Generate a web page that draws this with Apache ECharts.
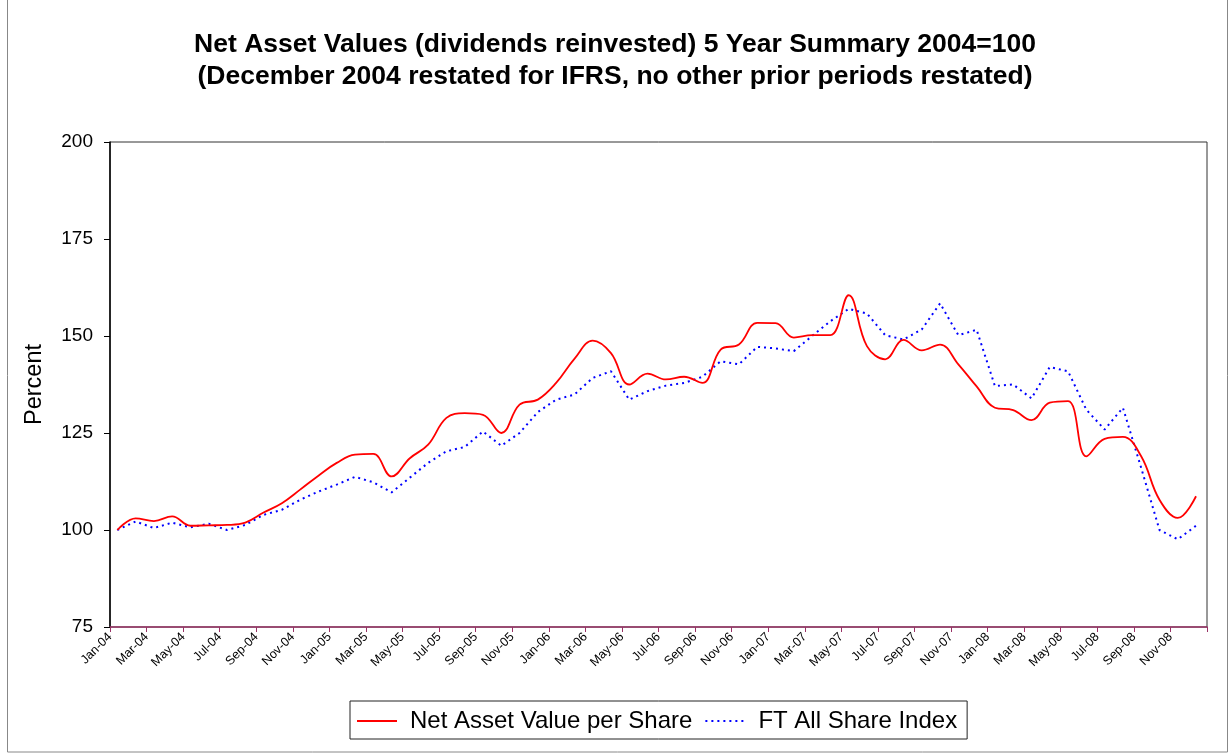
<!DOCTYPE html>
<html>
<head>
<meta charset="utf-8">
<script src="https://cdn.jsdelivr.net/npm/echarts@6/dist/echarts.min.js"></script>
<style>html,body{margin:0;padding:0;background:#fff;}#c{width:1230px;height:756px;}</style>
</head>
<body>
<div id="c"></div>
<script>
// Monthly observations Jan-04 .. Dec-08
var months = ['Jan-04','Feb-04','Mar-04','Apr-04','May-04','Jun-04','Jul-04','Aug-04','Sep-04','Oct-04','Nov-04','Dec-04',
 'Jan-05','Feb-05','Mar-05','Apr-05','May-05','Jun-05','Jul-05','Aug-05','Sep-05','Oct-05','Nov-05','Dec-05',
 'Jan-06','Feb-06','Mar-06','Apr-06','May-06','Jun-06','Jul-06','Aug-06','Sep-06','Oct-06','Nov-06','Dec-06',
 'Jan-07','Feb-07','Mar-07','Apr-07','May-07','Jun-07','Jul-07','Aug-07','Sep-07','Oct-07','Nov-07','Dec-07',
 'Jan-08','Feb-08','Mar-08','Apr-08','May-08','Jun-08','Jul-08','Aug-08','Sep-08','Oct-08','Nov-08','Dec-08'];

var navPerShare = [100, 103.0, 102.3, 103.5, 101.1, 101.2, 101.3, 101.9, 104.5, 106.9, 110.4, 114.0,
 117.3, 119.4, 119.6, 113.8, 118.5, 122.0, 128.9, 130.1, 129.7, 125.0, 132.3, 133.6,
 137.9, 144.1, 148.8, 145.6, 137.5, 140.3, 138.8, 139.5, 137.9, 146.5, 147.8, 153.4,
 153.3, 149.6, 150.2, 150.2, 160.5, 147.4, 144.0, 149.0, 146.3, 147.8, 142.7, 137.0,
 131.5, 130.9, 128.3, 132.8, 133.2, 119.0, 123.5, 124.0, 119.0, 107.8, 103.1, 108.7];

var ftAllShare = [100, 102.2, 100.5, 101.9, 100.7, 101.6, 100.0, 101.3, 103.9, 105.2, 107.8, 109.9,
 111.7, 113.7, 112.3, 109.7, 113.5, 117.3, 120.3, 121.4, 125.4, 121.7, 125.0, 130.4,
 133.6, 134.9, 139.2, 140.9, 133.6, 135.8, 137.2, 137.9, 139.5, 143.5, 142.7, 147.2,
 146.8, 146.1, 150.0, 153.8, 157.0, 155.8, 150.2, 149.1, 151.7, 158.4, 150.2, 151.6,
 137.1, 137.5, 133.9, 142.0, 140.9, 131.0, 125.9, 131.5, 116.0, 100.0, 97.6, 101.1];

// Axis tick labels every two months (position = months since Jan-04)
var tickLabels = ['Jan-04','Mar-04','May-04','Jul-04','Sep-04','Nov-04','Jan-05','Mar-05','May-05','Jul-05','Sep-05','Nov-05',
 'Jan-06','Mar-06','May-06','Jul-06','Sep-06','Nov-06','Jan-07','Mar-07','May-07','Jul-07','Sep-07','Nov-07',
 'Jan-08','Mar-08','May-08','Jul-08','Sep-08','Nov-08',''];
var yTicks = [75, 100, 125, 150, 175, 200];

var DAY_OFFSET = 0.4; // observations fall part-way through each month
function pairs(vals){ return vals.map(function(v,i){ return [i + DAY_OFFSET, v]; }); }

var FONT = "'Liberation Sans', Arial, sans-serif";
var chart = echarts.init(document.getElementById('c'), null, {renderer:'canvas'});
chart.setOption({
  animation:false,
  backgroundColor:'#fff',
  textStyle:{fontFamily:FONT},
  title:{
    text:'Net Asset Values (dividends reinvested) 5 Year Summary 2004=100\n(December 2004 restated for IFRS, no other prior periods restated)',
    left:'center', top:24,
    textStyle:{fontFamily:FONT, fontSize:26.5, fontWeight:'bold', color:'#000', lineHeight:32}
  },
  grid:{left:110, right:23, top:142, bottom:129, show:true, borderColor:'#333', borderWidth:1, backgroundColor:'#fff'},
  xAxis:{
    type:'value', min:0, max:60, interval:2,
    axisLine:{show:true, onZero:false, lineStyle:{color:'#993366', width:1.5}},
    axisTick:{show:true, length:5, lineStyle:{color:'#993366'}},
    splitLine:{show:false},
    axisLabel:{rotate:45, fontSize:12.5, color:'#000', margin:8, fontFamily:FONT,
      formatter:function(v){ return tickLabels[Math.round(v/2)] || ''; }}
  },
  yAxis:{
    type:'value', min:yTicks[0], max:yTicks[yTicks.length-1], interval:25,
    name:'Percent', nameLocation:'middle', nameGap:63,
    nameTextStyle:{fontSize:23.5, color:'#000', fontFamily:FONT},
    axisLine:{show:true, lineStyle:{color:'#000', width:1.5}},
    axisTick:{show:true, length:6, lineStyle:{color:'#000'}},
    splitLine:{show:false},
    axisLabel:{fontSize:19, color:'#000', margin:17, fontFamily:FONT}
  },
  legend:{
    bottom:17, left:350, orient:'horizontal',
    borderColor:'#222', borderWidth:1, padding:[8,10,6,6],
    itemWidth:40, itemHeight:12, itemGap:12,
    itemStyle:{opacity:0},
    textStyle:{fontSize:24, color:'#000', fontFamily:FONT, padding:[0,0,0,8]},
    data:['Net Asset Value per Share','FT All Share Index']
  },
  series:[
    {name:'Net Asset Value per Share', type:'line', data:pairs(navPerShare), symbol:'none',
     smooth:0.4, lineStyle:{color:'#FF0000', width:1.8}, itemStyle:{color:'#FF0000'}, z:3},
    {name:'FT All Share Index', type:'line', data:pairs(ftAllShare), symbol:'none',
     smooth:false, lineStyle:{color:'#0000FF', width:2, type:[2,4]}, itemStyle:{color:'#0000FF'}, z:2}
  ],
  graphic:[
    {type:'rect', shape:{x:7.5, y:-2, width:1220, height:754}, style:{fill:'none', stroke:'#888', lineWidth:1}, silent:true}
  ]
});
</script>
</body>
</html>
